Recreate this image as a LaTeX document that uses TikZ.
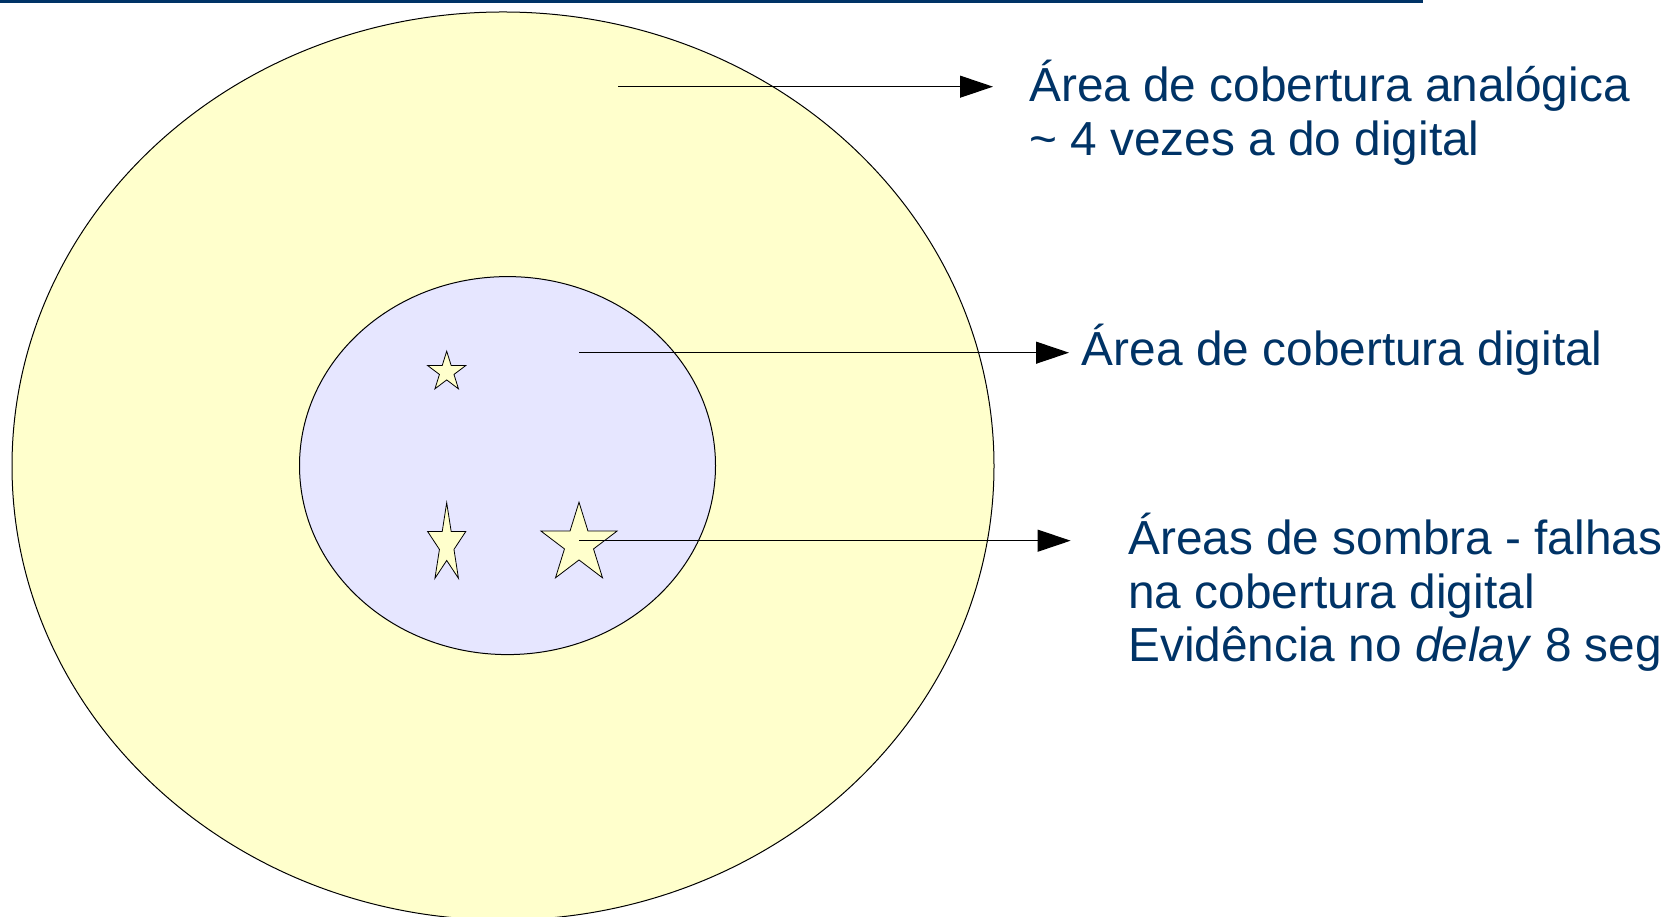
\documentclass[tikz,border=0pt]{standalone}
\usepackage{fontspec}
\setmainfont{Liberation Sans}
\usetikzlibrary{arrows.meta,calc}
\definecolor{navy}{RGB}{0,51,102}
\definecolor{analogfill}{RGB}{255,255,204}
\definecolor{digitalfill}{RGB}{230,230,255}
\tikzset{
  % zone style is used for the two coverage ellipses
  zone/.style={draw=black, line width=1pt},
  areatext/.style={inner sep=0pt, align=left, text=navy,
    font=\fontsize{47.8pt}{53.6pt}\selectfont},
  pointer/.style={-{Triangle[length=33pt,width=22pt]}, line width=1.1pt},
  shadowstar/.style={draw=black, fill=analogfill, line width=0.8pt, line join=miter}}

\begin{document}
\begin{tikzpicture}[x=1pt, y=1pt]

\useasboundingbox (0,0) rectangle (1680,917);

\fill[navy] (0,914) rectangle (1423,917); % top rule

\draw[zone, fill=analogfill] (503,451) ellipse [x radius=491, y radius=454];
\draw[zone, fill=digitalfill] (507.5,451.4) ellipse [x radius=208, y radius=189];

% shadow areas inside the digital coverage
\foreach \sx/\sy/\rx/\ry in {446.7/545/20/20.8, 446.7/372.5/20/41.8, 579/373/40/41.8}
  \draw[shadowstar, shift={(\sx,\sy)}, xscale=\rx, yscale=\ry]
    plot[samples at={0,...,9}] ({90+36*\x}:{1-0.618*mod(\x,2)}) -- cycle;

% base of a multi-line node = baseline of its last line
\node (analogtxt) [areatext, anchor=base west] at (1029,761.4)
{Área de cobertura analógica\\\textasciitilde{} 4 vezes a do digital};

\node (digitaltxt) [areatext, anchor=base west] at (1081.7,551.3)
{Área de cobertura digital};

\node (shadowtxt) [areatext, anchor=base west] at (1128,255.1)
{Áreas de sombra - falhas\\na cobertura digital\\Evidência no \textit{delay} 8 seg};

\coordinate (analogsrc) at (618,830.3);
\coordinate (digitalsrc) at (579,564.3);
\coordinate (shadowsrc) at (579,376.3);

\draw [pointer, shorten >=36pt] (analogsrc) -- (analogsrc -| analogtxt.west);
\draw [pointer, shorten >=12.7pt] (digitalsrc) -- (digitalsrc -| digitaltxt.west);
\draw [pointer, shorten >=57.4pt] (shadowsrc) -- (shadowsrc -| shadowtxt.west);

\end{tikzpicture}
\end{document}
